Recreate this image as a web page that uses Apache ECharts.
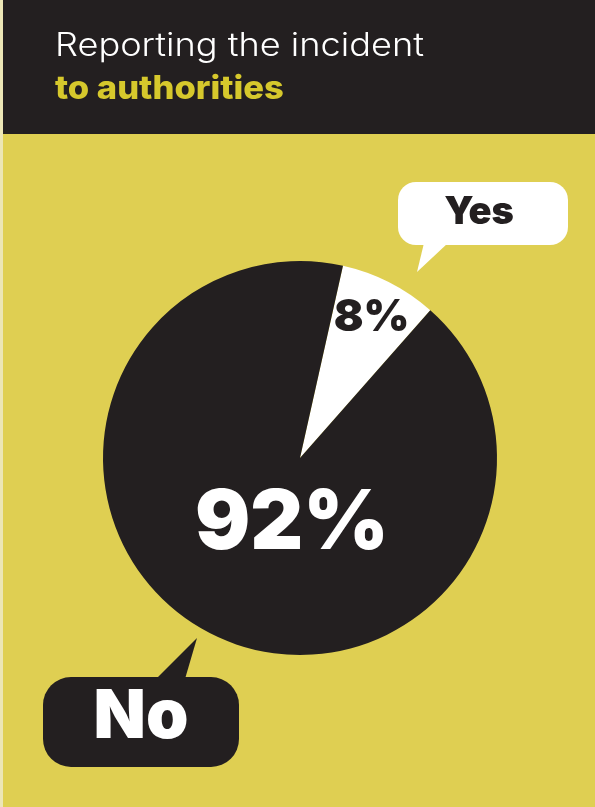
<!DOCTYPE html>
<html>
<head>
<meta charset="utf-8">
<script src="https://cdn.jsdelivr.net/npm/echarts@6/dist/echarts.min.js"></script>
<style>
html,body{margin:0;padding:0;background:#dfcf52;}
#c{width:595px;height:807px;}
</style>
</head>
<body>
<div id="c"></div>
<script>
// ---- data ----
const titleLines = ['Reporting the incident', 'to authorities'];
const categories = ['Yes', 'No'];
const values = [8, 92];

// ---- layout / style ----
const BLACK = '#231f20';
const YELLOW = '#dfcf52';
const TITLE_YELLOW = '#d6c82c';
const FONT = 'Inter, Lato, "Open Sans", sans-serif';
const CX = 300, CY = 458, R = 197, START = 77.4;

const total = values.reduce((a, b) => a + b, 0);
function midAngle(i) {
  let before = 0;
  for (let k = 0; k < i; k++) before += values[k];
  return (START - (before + values[i] / 2) / total * 360) * Math.PI / 180;
}

const chart = echarts.init(document.getElementById('c'), null, {renderer: 'canvas'});
chart.setOption({
  backgroundColor: YELLOW,
  animation: false,
  graphic: [
    {type: 'rect', shape: {x: 0, y: 0, width: 595, height: 134}, style: {fill: BLACK}, z: 1},
    {type: 'rect', shape: {x: 0, y: 0, width: 3, height: 807}, style: {fill: '#ece6b6'}, z: 2},
    {type: 'text', x: 55, y: 46, scaleX: 1.13, style: {text: titleLines[0], fill: '#ffffff', font: '300 32px ' + FONT, verticalAlign: 'middle', align: 'left'}, z: 3},
    {type: 'text', x: 55, y: 89, scaleX: 1.08, style: {text: titleLines[1], fill: TITLE_YELLOW, font: '800 32px ' + FONT, verticalAlign: 'middle', align: 'left'}, z: 3},
    // Yes bubble
    {type: 'rect', shape: {x: 398, y: 182, width: 170, height: 63, r: 18}, style: {fill: '#ffffff'}, z: 3},
    {type: 'polygon', shape: {points: [[424, 243], [448, 243], [417, 272]]}, style: {fill: '#ffffff'}, z: 3},
    {type: 'text', x: 479, y: 213, style: {text: categories[0], fill: BLACK, font: '900 38px ' + FONT, align: 'center', verticalAlign: 'middle'}, z: 4},
    // No bubble
    {type: 'rect', shape: {x: 43, y: 677, width: 196, height: 90, r: 28}, style: {fill: BLACK}, z: 3},
    {type: 'polygon', shape: {points: [[156, 679], [185, 679], [197, 638]]}, style: {fill: BLACK}, z: 3},
    {type: 'text', x: 141, y: 718, style: {text: categories[1], fill: '#ffffff', font: '900 68px ' + FONT, align: 'center', verticalAlign: 'middle'}, z: 4}
  ],
  series: [{
    type: 'pie',
    center: [CX, CY],
    radius: [0, R],
    startAngle: START,
    clockwise: true,
    silent: true,
    labelLine: {show: false},
    itemStyle: {borderWidth: 0},
    data: [
      {name: categories[0], value: values[0], itemStyle: {color: '#ffffff'},
       label: {show: true, position: 'inside', color: BLACK, fontSize: 44, fontWeight: 900, fontFamily: FONT,
               formatter: p => p.value + '%'}},
      {name: categories[1], value: values[1], itemStyle: {color: BLACK},
       label: {show: true, position: 'inside', color: '#ffffff', fontSize: 82, fontWeight: 900, fontFamily: FONT,
               formatter: p => p.value + '%'}}
    ],
    labelLayout: function (p) {
      if (p.dataIndex === 0) {
        const a = midAngle(0);
        return {x: CX + 0.8 * R * Math.cos(a), y: CY - 0.8 * R * Math.sin(a), align: 'center', verticalAlign: 'middle'};
      }
      return {x: CX - 8, y: CY + 66, align: 'center', verticalAlign: 'middle'};
    }
  }]
});
</script>
</body>
</html>
